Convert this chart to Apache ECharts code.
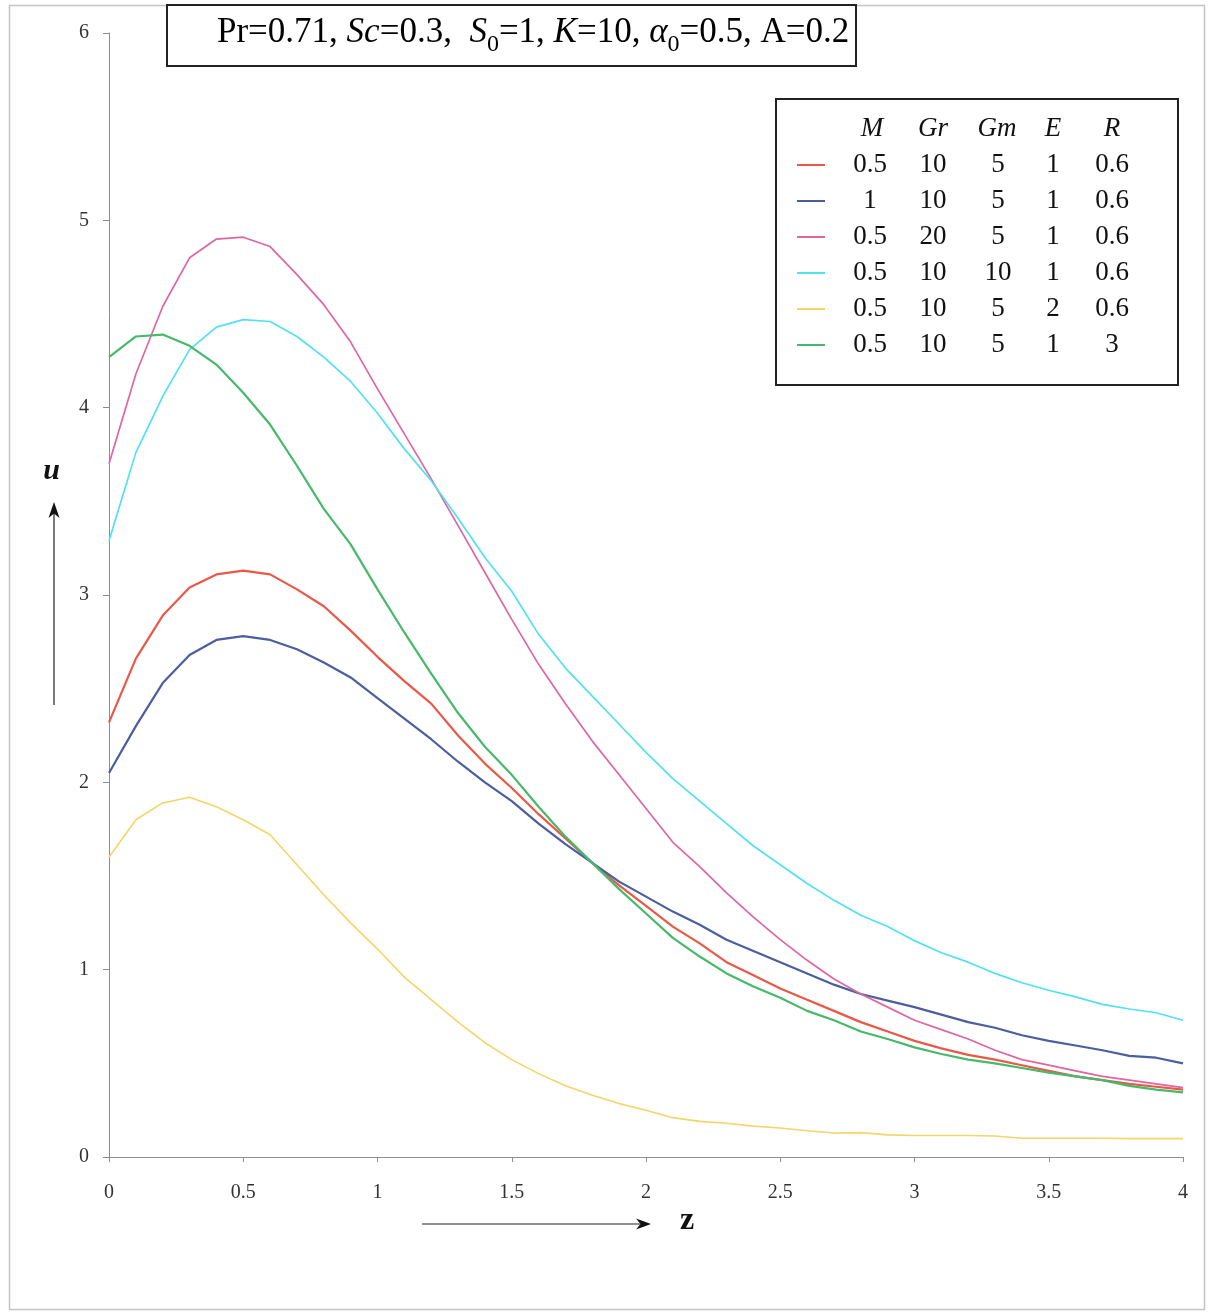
<!DOCTYPE html>
<html>
<head>
<meta charset="utf-8">
<title>Velocity profiles u(z)</title>
<script src="https://cdn.jsdelivr.net/npm/echarts@6/dist/echarts.min.js"></script>
<style>
  html, body { margin: 0; padding: 0; background: #fff; }
  #chart { width: 1210px; height: 1312px; }
</style>
</head>
<body>
<div id="chart"></div>
<script>
// Distance from the plate
const zValues = [0, 0.1, 0.2, 0.3, 0.4, 0.5, 0.6, 0.7, 0.8, 0.9, 1.0,
  1.1, 1.2, 1.3, 1.4, 1.5, 1.6, 1.7, 1.8, 1.9, 2.0,
  2.1, 2.2, 2.3, 2.4, 2.5, 2.6, 2.7, 2.8, 2.9, 3.0,
  3.1, 3.2, 3.3, 3.4, 3.5, 3.6, 3.7, 3.8, 3.9, 4.0];

// Velocity u for each parameter set
const uM05 = [2.32, 2.66, 2.89, 3.04, 3.11, 3.13, 3.11, 3.03, 2.94, 2.81, 2.67,
  2.54, 2.42, 2.25, 2.10, 1.97, 1.83, 1.70, 1.57, 1.45, 1.34,
  1.23, 1.14, 1.04, 0.97, 0.90, 0.84, 0.78, 0.72, 0.67, 0.62,
  0.58, 0.545, 0.52, 0.49, 0.46, 0.43, 0.41, 0.39, 0.375, 0.36];
const uM1 = [2.05, 2.30, 2.53, 2.68, 2.76, 2.78, 2.76, 2.71, 2.64, 2.56, 2.45,
  2.34, 2.23, 2.11, 2.00, 1.90, 1.78, 1.67, 1.57, 1.47, 1.39,
  1.31, 1.24, 1.16, 1.10, 1.04, 0.98, 0.92, 0.87, 0.835, 0.80,
  0.76, 0.72, 0.69, 0.65, 0.62, 0.595, 0.57, 0.54, 0.53, 0.50];
const uGr20 = [3.70, 4.18, 4.54, 4.80, 4.90, 4.91, 4.86, 4.71, 4.55, 4.35, 4.10,
  3.86, 3.62, 3.37, 3.12, 2.87, 2.63, 2.42, 2.22, 2.04, 1.86,
  1.68, 1.55, 1.41, 1.28, 1.16, 1.05, 0.95, 0.87, 0.80, 0.73,
  0.68, 0.63, 0.57, 0.52, 0.49, 0.46, 0.43, 0.41, 0.39, 0.37];
const uGm10 = [3.29, 3.76, 4.06, 4.31, 4.43, 4.47, 4.46, 4.38, 4.27, 4.14, 3.97,
  3.78, 3.61, 3.41, 3.20, 3.02, 2.79, 2.61, 2.46, 2.31, 2.16,
  2.02, 1.90, 1.78, 1.66, 1.56, 1.46, 1.37, 1.29, 1.23, 1.155,
  1.09, 1.04, 0.98, 0.93, 0.89, 0.855, 0.815, 0.79, 0.77, 0.73];
const uE2 = [1.60, 1.80, 1.89, 1.92, 1.87, 1.80, 1.72, 1.56, 1.40, 1.25, 1.11,
  0.96, 0.84, 0.72, 0.61, 0.52, 0.445, 0.38, 0.33, 0.285, 0.25,
  0.21, 0.19, 0.18, 0.165, 0.155, 0.14, 0.128, 0.13, 0.118, 0.115,
  0.115, 0.115, 0.112, 0.10, 0.10, 0.10, 0.10, 0.098, 0.098, 0.098];
const uR3 = [4.27, 4.38, 4.39, 4.33, 4.23, 4.08, 3.91, 3.69, 3.46, 3.27, 3.03,
  2.80, 2.58, 2.37, 2.19, 2.04, 1.87, 1.71, 1.57, 1.43, 1.30,
  1.17, 1.07, 0.98, 0.91, 0.85, 0.78, 0.73, 0.67, 0.63, 0.585,
  0.55, 0.52, 0.50, 0.475, 0.45, 0.43, 0.41, 0.38, 0.36, 0.345];

// Legend table: column heads and one row of parameter values per curve
const legendHeads = ['M', 'Gr', 'Gm', 'E', 'R'];
const legendRows = [
  ['0.5', '10', '5', '1', '0.6'],
  ['1', '10', '5', '1', '0.6'],
  ['0.5', '20', '5', '1', '0.6'],
  ['0.5', '10', '10', '1', '0.6'],
  ['0.5', '10', '5', '2', '0.6'],
  ['0.5', '10', '5', '1', '3']
];
const seriesValues = [uM05, uM1, uGr20, uGm10, uE2, uR3];
const seriesColors = ['#ea5848', '#4b5e9e', '#e066a0', '#4fe2f0', '#f5d468', '#47b96a'];
const seriesWidths = [2.2, 2.2, 1.7, 1.7, 1.6, 2.2];

const SERIF = '"Liberation Serif", "Times New Roman", serif';
const colKeys = ['m', 'gr', 'gm', 'e', 'r'];
const colWidths = [80, 46, 84, 26, 92];
const headCenters = [872, 933, 997, 1053, 1112];

const rowName = row => row.join(' | ');

const rich = {};
colKeys.forEach((k, i) => {
  rich[k] = { width: colWidths[i], align: 'center', fontFamily: SERIF, fontSize: 27, color: '#111', lineHeight: 36 };
});

const series = seriesValues.map((vals, i) => ({
  name: rowName(legendRows[i]),
  type: 'line',
  data: zValues.map((z, j) => [z, vals[j]]),
  symbol: 'none',
  showSymbol: false,
  smooth: false,
  lineStyle: { color: seriesColors[i], width: seriesWidths[i] },
  itemStyle: { color: seriesColors[i] },
  emphasis: { disabled: true },
  silent: true
}));

const nameToRow = {};
legendRows.forEach(r => { nameToRow[rowName(r)] = r; });

const graphic = [
  // thin frame round the whole figure
  { type: 'rect', shape: { x: 9.5, y: 5.5, width: 1195, height: 1304 },
    style: { fill: 'none', stroke: '#c4c4c4', lineWidth: 1.5 }, z: 0, silent: true },
  // parameter box
  { type: 'rect', shape: { x: 167, y: 5, width: 689, height: 61 },
    style: { fill: '#fff', stroke: '#222', lineWidth: 2 }, z: 10, silent: true },
  { type: 'text', x: 217, y: 15, z: 11, silent: true,
    style: {
      text: '{n|Pr=0.71, }{i|Sc}{n|=0.3,  }{i|S}{s|0}{n|=1, }{i|K}{n|=10, }{i|α}{s|0}{n|=0.5, A=0.2}',
      verticalAlign: 'top',
      rich: {
        n: { fontFamily: SERIF, fontSize: 35, lineHeight: 40, verticalAlign: 'top', color: '#111' },
        i: { fontFamily: SERIF, fontSize: 35, fontStyle: 'italic', lineHeight: 40, verticalAlign: 'top', color: '#111' },
        s: { fontFamily: SERIF, fontSize: 24, lineHeight: 24, padding: [18, 0, 0, 0], verticalAlign: 'top', color: '#111' }
      }
    } },
  // axis arrows and names
  { type: 'line', shape: { x1: 54, y1: 705, x2: 54, y2: 512 },
    style: { stroke: '#222', lineWidth: 1.2 }, silent: true },
  { type: 'polygon', shape: { points: [[54, 502], [48.5, 518], [54, 513.5], [59.5, 518]] },
    style: { fill: '#111' }, silent: true },
  { type: 'text', x: 51.5, y: 471, silent: true,
    style: { text: 'u', fontFamily: SERIF, fontSize: 30, fontWeight: 'bold', fontStyle: 'italic',
      fill: '#111', align: 'center', verticalAlign: 'middle' } },
  { type: 'line', shape: { x1: 422, y1: 1224, x2: 640, y2: 1224 },
    style: { stroke: '#222', lineWidth: 1.2 }, silent: true },
  { type: 'polygon', shape: { points: [[651, 1224], [636, 1218.5], [640.5, 1224], [636, 1229.5]] },
    style: { fill: '#111' }, silent: true },
  { type: 'text', x: 687, y: 1221, silent: true,
    style: { text: 'z', fontFamily: SERIF, fontSize: 32, fontWeight: 'bold',
      fill: '#111', align: 'center', verticalAlign: 'middle' } }
];

// legend column heads
legendHeads.forEach((h, i) => {
  graphic.push({ type: 'text', x: headCenters[i], y: 129, z: 20, silent: true,
    style: { text: h, fontFamily: SERIF, fontSize: 27, fontStyle: 'italic', fill: '#111',
      align: 'center', verticalAlign: 'middle' } });
});

const option = {
  animation: false,
  backgroundColor: '#fff',
  grid: { left: 109, right: 27, top: 33, bottom: 155, containLabel: false },
  xAxis: {
    type: 'value', min: 0, max: 4, interval: 0.5,
    axisLine: { show: true, onZero: false, lineStyle: { color: '#8c8c8c', width: 1 } },
    axisTick: { show: true, length: 5, lineStyle: { color: '#8c8c8c' } },
    axisLabel: { margin: 26, fontFamily: SERIF, fontSize: 20, color: '#333' },
    splitLine: { show: false }
  },
  yAxis: {
    type: 'value', min: 0, max: 6, interval: 1,
    axisLine: { show: true, lineStyle: { color: '#8c8c8c', width: 1 } },
    axisTick: { show: true, length: 6, lineStyle: { color: '#8c8c8c' } },
    axisLabel: { margin: 20, fontFamily: SERIF, fontSize: 20, color: '#333' },
    splitLine: { show: false }
  },
  legend: {
    orient: 'vertical', left: 776, top: 99,
    icon: 'rect', itemWidth: 28, itemHeight: 2, itemGap: 0,
    padding: [48, 20, 22, 21],
    borderColor: '#222', borderWidth: 2, backgroundColor: '#fff',
    selectedMode: false,
    data: legendRows.map(rowName),
    formatter: name => nameToRow[name].map((v, i) => '{' + colKeys[i] + '|' + v + '}').join(''),
    textStyle: { fontFamily: SERIF, fontSize: 27, color: '#111', lineHeight: 36, rich: rich }
  },
  graphic: graphic,
  series: series
};

const chart = echarts.init(document.getElementById('chart'));
chart.setOption(option);
</script>
</body>
</html>
